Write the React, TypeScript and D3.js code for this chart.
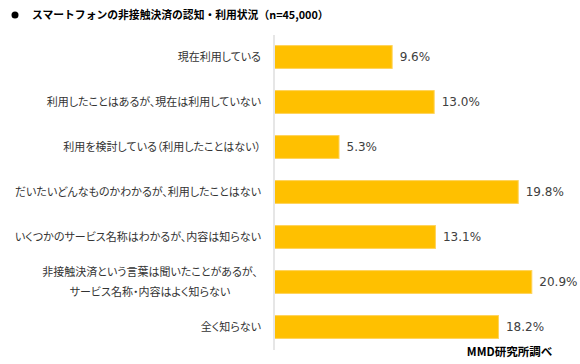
import React from "react";
import * as d3 from "d3";

const categories: string[][] = [
  ["現在利用している"],
  ["利用したことはあるが、現在は利用していない"],
  ["利用を検討している（利用したことはない）"],
  ["だいたいどんなものかわかるが、利用したことはない"],
  ["いくつかのサービス名称はわかるが、内容は知らない"],
  ["非接触決済という言葉は聞いたことがあるが、", "サービス名称・内容はよく知らない"],
  ["全く知らない"],
];
const values: number[] = [9.6, 13.0, 5.3, 19.8, 13.1, 20.9, 18.2];
const title = "スマートフォンの非接触決済の認知・利用状況（n=45,000）";
const source = "MMD研究所調べ";

const W = 580;
const H = 364;
const JP = "'Noto Sans CJK JP', 'Noto Sans', sans-serif";
const labelStyle = { fontFeatureSettings: "'palt'" } as React.CSSProperties;

export default function App() {
  const x = d3.scaleLinear().domain([0, 25]).range([274, 274 + 309]);
  const y = d3
    .scaleBand<number>()
    .domain(d3.range(categories.length))
    .range([34.5, 349.5])
    .paddingInner(0.47)
    .paddingOuter(0.235);
  const bh = y.bandwidth();

  return (
    <svg
      width={W}
      height={H}
      style={{ position: "absolute", left: 0, top: 0, background: "#fff" }}
    >
      <circle cx={15} cy={15} r={3.5} fill="#000" />
      <text
        x={32}
        y={19}
        fontFamily={JP}
        fontSize={10.8}
        fontWeight="bold"
        fill="#000"
      >
        {title}
      </text>

      {values.map((v, i) => {
        const cy = (y(i) as number) + bh / 2;
        return (
          <g key={i}>
            <rect
              x={x(0) + 0.5}
              y={(y(i) as number) + 0.5}
              width={x(v) - x(0) - 1}
              height={bh - 1}
              fill="#FFC000"
              stroke="#FFD35A"
              strokeWidth={1}
            />
            <text
              x={x(v) + 7}
              y={cy}
              dy="0.36em"
              fontFamily="'DejaVu Sans', Verdana, sans-serif"
              fontSize={12}
              fill="#404040"
            >
              {v.toFixed(1) + "%"}
            </text>
            {categories[i].length === 1 ? (
              <text
                x={261}
                y={cy}
                dy="0.36em"
                textAnchor="end"
                fontFamily={JP}
                fontSize={11}
                fill="#333"
                style={labelStyle}
              >
                {categories[i][0]}
              </text>
            ) : (
              categories[i].map((line, j) => (
                <text
                  key={j}
                  x={150}
                  y={cy + (j - (categories[i].length - 1) / 2) * 20}
                  dy="0.36em"
                  textAnchor="middle"
                  fontFamily={JP}
                  fontSize={11}
                  fill="#333"
                  style={labelStyle}
                >
                  {line}
                </text>
              ))
            )}
          </g>
        );
      })}

      <line x1={274} x2={274} y1={35} y2={350} stroke="#E6E6E6" strokeWidth={2} />

      <text
        x={552}
        y={356}
        textAnchor="end"
        fontFamily={JP}
        fontSize={11.5}
        fontWeight="bold"
        fill="#000"
        style={labelStyle}
      >
        {source}
      </text>
    </svg>
  );
}
